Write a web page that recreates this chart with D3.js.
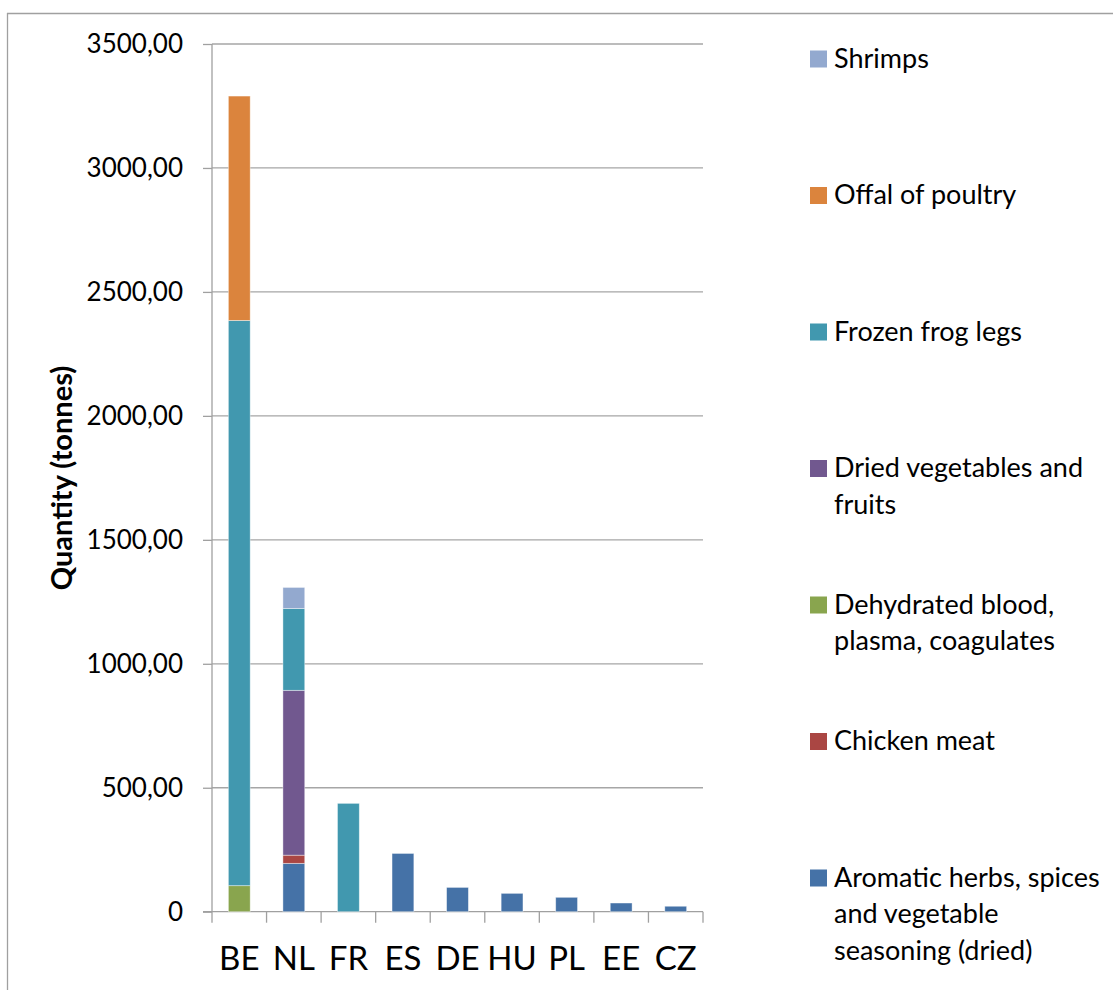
<!DOCTYPE html>
<html>
<head>
<meta charset="utf-8">
<script src="https://cdn.jsdelivr.net/npm/d3@7"></script>
<style>
  html, body { margin: 0; padding: 0; background: #fff; }
  svg { display: block; font-family: Lato, "Open Sans", sans-serif; }
</style>
</head>
<body>
<svg id="chart" width="1113" height="990"></svg>
<script>
// ---- data ----
const countries = ["BE", "NL", "FR", "ES", "DE", "HU", "PL", "EE", "CZ"];
const seriesNames = [
  "Aromatic herbs, spices and vegetable seasoning (dried)",
  "Chicken meat",
  "Dehydrated blood, plasma, coagulates",
  "Dried vegetables and fruits",
  "Frozen frog legs",
  "Offal of poultry",
  "Shrimps"
];
const aromatic   = [0, 195, 0, 235, 98, 74, 58, 35, 22];
const chicken    = [0, 33, 0, 0, 0, 0, 0, 0, 0];
const blood      = [105, 0, 0, 0, 0, 0, 0, 0, 0];
const driedVeg   = [0, 665, 0, 0, 0, 0, 0, 0, 0];
const frogLegs   = [2280, 330, 437, 0, 0, 0, 0, 0, 0];
const offal      = [905, 0, 0, 0, 0, 0, 0, 0, 0];
const shrimps    = [0, 85, 0, 0, 0, 0, 0, 0, 0];
const yTicks = [0, 500, 1000, 1500, 2000, 2500, 3000, 3500];
const legendLines = [
  ["Aromatic herbs, spices", "and vegetable", "seasoning (dried)"],
  ["Chicken meat"],
  ["Dehydrated blood,", "plasma, coagulates"],
  ["Dried vegetables and", "fruits"],
  ["Frozen frog legs"],
  ["Offal of poultry"],
  ["Shrimps"]
];
const colors = ["#4572A7", "#AA4643", "#89A54E", "#71588F", "#4198AF", "#DB843D", "#93A9CF"];

const seriesValues = [aromatic, chicken, blood, driedVeg, frogLegs, offal, shrimps];
const table = countries.map((c, i) => {
  const row = { country: c };
  seriesNames.forEach((s, k) => row[s] = seriesValues[k][i]);
  return row;
});

// ---- layout ----
const svg = d3.select("#chart");
const plot = { left: 212, right: 703, top: 44, bottom: 911.7 };

const x = d3.scaleBand().domain(countries).range([plot.left, plot.right]).paddingInner(0.6).paddingOuter(0.3);
const xOuter = d3.scaleBand().domain(countries).range([plot.left, plot.right]);
const y = d3.scaleLinear().domain([0, 3500]).range([plot.bottom, plot.top]);
const color = d3.scaleOrdinal().domain(seriesNames).range(colors);

// outer frame (top & left edges)
svg.append("line").attr("x1", 7).attr("x2", 1113).attr("y1", 13.5).attr("y2", 13.5)
  .attr("stroke", "#A0A0A0").attr("stroke-width", 1.3);
svg.append("line").attr("x1", 7.5).attr("x2", 7.5).attr("y1", 13).attr("y2", 990)
  .attr("stroke", "#A0A0A0").attr("stroke-width", 1.3);

// gridlines
svg.append("g").selectAll("line").data(yTicks.filter(d => d > 0)).join("line")
  .attr("x1", plot.left).attr("x2", plot.right)
  .attr("y1", d => y(d)).attr("y2", d => y(d))
  .attr("stroke", "#A6A6A6").attr("stroke-width", 1.3);

// y axis
const yAxis = d3.axisLeft(y).tickValues(yTicks).tickSize(9).tickPadding(20)
  .tickFormat(d => d === 0 ? "0" : d3.format(".2f")(d).replace(".", ","));
const gy = svg.append("g").attr("transform", `translate(${plot.left},0)`).call(yAxis);
gy.select(".domain").attr("stroke", "#A0A0A0").attr("stroke-width", 1.3).attr("d", `M0,${plot.top}V${plot.bottom}`);
gy.selectAll(".tick line").attr("stroke", "#A0A0A0").attr("stroke-width", 1.3);
gy.selectAll(".tick text").attr("font-size", 26).attr("fill", "#000").attr("font-family", "Lato");

// x axis
const xAxis = d3.axisBottom(xOuter).tickSize(0).tickPadding(35);
const gx = svg.append("g").attr("transform", `translate(0,${plot.bottom})`).call(xAxis);
gx.select(".domain").attr("stroke", "#A0A0A0").attr("stroke-width", 1.3).attr("d", `M${plot.left - 9},0H${plot.right}`);
gx.selectAll(".tick text").attr("font-size", 33).attr("fill", "#000").attr("font-family", "Lato");
// boundary tick marks
const bounds = countries.map(c => xOuter(c)).concat([plot.right]);
gx.append("g").selectAll("line").data(bounds).join("line")
  .attr("x1", d => d).attr("x2", d => d).attr("y1", 0).attr("y2", 11)
  .attr("stroke", "#A0A0A0").attr("stroke-width", 1.3);

// stacked bars
const stack = d3.stack().keys(seriesNames);
const layers = stack(table);
svg.append("g").selectAll("g").data(layers).join("g")
  .attr("fill", d => color(d.key))
  .selectAll("rect").data(d => d.filter(p => p[1] - p[0] > 0)).join("rect")
  .attr("x", d => x(d.data.country))
  .attr("width", x.bandwidth())
  .attr("y", d => y(d[1]))
  .attr("height", d => y(d[0]) - y(d[1]))
  .attr("stroke", "#ffffff").attr("stroke-opacity", 0.5).attr("stroke-width", 0.8);

// y axis title
svg.append("text")
  .attr("transform", `translate(72,478) rotate(-90)`)
  .attr("text-anchor", "middle")
  .attr("font-size", 29).attr("font-weight", "bold").attr("font-family", "Lato")
  .attr("fill", "#000")
  .text("Quantity (tonnes)");

// legend (reverse order, top = Shrimps)
const legendOrder = seriesNames.map((s, i) => i).reverse();
const ly = d3.scalePoint().domain(legendOrder).range([59, 878]);
const lg = svg.append("g").selectAll("g").data(legendOrder).join("g")
  .attr("transform", i => `translate(810,${ly(i)})`);
lg.append("rect").attr("x", 0).attr("y", -8.5).attr("width", 17).attr("height", 17)
  .attr("fill", i => colors[i]);
lg.append("text").attr("x", 24).attr("y", 8.5)
  .attr("font-size", 27).attr("font-family", "Lato").attr("fill", "#000")
  .selectAll("tspan").data(i => legendLines[i]).join("tspan")
  .attr("x", 24).attr("dy", (d, j) => j === 0 ? 0 : 36.7)
  .text(d => d);
</script>
</body>
</html>
